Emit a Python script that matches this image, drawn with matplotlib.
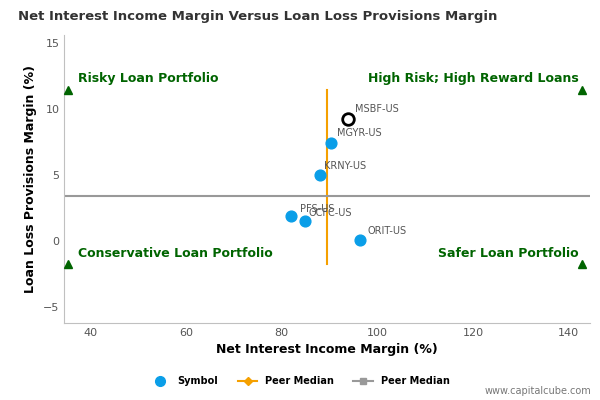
import matplotlib.pyplot as plt
from matplotlib.lines import Line2D

symbols = ['MSBF-US', 'MGYR-US', 'KRNY-US', 'PFS-US', 'OCFC-US', 'ORIT-US']
nim = [93.8, 90.4, 88.1, 81.9, 84.8, 96.3]
llp = [9.2, 7.4, 5.0, 1.9, 1.5, 0.1]
peer_median_x = 89.4
peer_median_y = 3.4
corner_x = [35.4, 142.7]
corner_y = [11.4, -1.75]

fig = plt.figure(figsize=(6, 4), dpi=100)
ax = fig.add_axes([0.107, 0.193, 0.876, 0.72])
ax.set_xlim(34.6, 144.4)
ax.set_ylim(-6.2, 15.6)

ax.plot([peer_median_x, peer_median_x], [corner_y[0], corner_y[1]], color='#f5a000', lw=1.5, zorder=2)
ax.axhline(peer_median_y, color='#999999', lw=1.5, zorder=2)

ax.scatter(nim[1:], llp[1:], s=60, color='#0a9ee8', zorder=3)
ax.scatter(nim[:1], llp[:1], s=70, facecolor='white', edgecolor='black', lw=2, zorder=4)
offsets = {'MSBF-US': (5, 5), 'MGYR-US': (4, 5), 'KRNY-US': (3, 4), 'PFS-US': (7, 3), 'OCFC-US': (3, 4), 'ORIT-US': (6, 4)}
for s, x, y in zip(symbols, nim, llp):
    dx, dy = offsets[s]
    ax.annotate(s, (x, y), xytext=(dx, dy), textcoords='offset points', fontsize=7, color='#555555')

for x in corner_x:
    for y in corner_y:
        ax.plot(x, y, marker='^', color='#006400', ms=6, ls='', clip_on=False, zorder=5)
tk = dict(color='#006400', fontsize=9, fontweight='bold')
ax.text(37.5, 12.0, 'Risky Loan Portfolio', ha='left', **tk)
ax.text(142.0, 12.0, 'High Risk; High Reward Loans', ha='right', **tk)
ax.text(37.5, -1.2, 'Conservative Loan Portfolio', ha='left', **tk)
ax.text(142.0, -1.2, 'Safer Loan Portfolio', ha='right', **tk)

ax.set_xticks([40, 60, 80, 100, 120, 140])
ax.set_yticks([-5, 0, 5, 10, 15])
ax.tick_params(labelsize=8, colors='#555555', length=0)
for sp in ['top', 'right']:
    ax.spines[sp].set_visible(False)
for sp in ['left', 'bottom']:
    ax.spines[sp].set_color('#c0c0c0')
ax.set_xlabel('Net Interest Income Margin (%)', fontsize=9, fontweight='bold')
ax.set_ylabel('Loan Loss Provisions Margin (%)', fontsize=9, fontweight='bold')
fig.text(0.03, 0.95, 'Net Interest Income Margin Versus Loan Loss Provisions Margin', fontsize=9.5, fontweight='bold', color='#333333')

handles = [Line2D([], [], marker='o', color='#0a9ee8', ls='', ms=7),
           Line2D([], [], marker='D', color='#f5a000', ms=4),
           Line2D([], [], marker='s', color='#999999', ms=5)]
fig.legend(handles, ['Symbol', 'Peer Median', 'Peer Median'], loc='center', bbox_to_anchor=(0.5, 0.047),
           ncol=3, frameon=False, prop={'size': 7, 'weight': 'bold'}, handlelength=2)
fig.text(0.985, 0.015, 'www.capitalcube.com', ha='right', fontsize=7, color='#777777')
fig.savefig('out.png')
